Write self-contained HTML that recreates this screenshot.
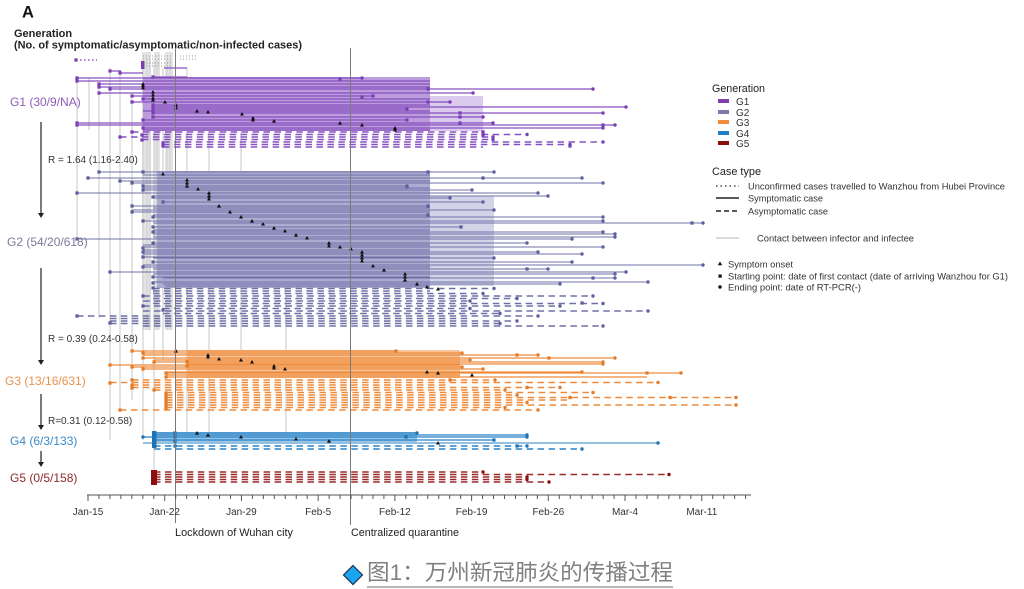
<!DOCTYPE html>
<html><head><meta charset="utf-8"><style>
html,body{margin:0;padding:0;background:#fff;}
svg{display:block;}
text{font-family:"Liberation Sans",Arial,sans-serif;}
.cj{font-family:"Liberation Sans","Noto Sans CJK SC",sans-serif;}
</style></head><body>
<svg width="1024" height="589" viewBox="0 0 1024 589" xmlns="http://www.w3.org/2000/svg">
<rect width="1024" height="589" fill="#fff"/>

<!-- header -->
<text x="22" y="17.5" font-size="16.5" font-weight="900" fill="#111">A</text>
<text x="14" y="37" font-size="11" font-weight="bold" fill="#222">Generation</text>
<text x="14" y="48.5" font-size="11" font-weight="bold" fill="#222" textLength="288" lengthAdjust="spacingAndGlyphs">(No. of symptomatic/asymptomatic/non-infected cases)</text>

<!-- gray contact columns -->
<g fill="#e3e3e3"><rect x="142" y="52" width="9" height="278"/><rect x="154" y="52" width="6" height="278"/><rect x="165" y="52" width="8" height="278"/></g>
<g stroke="#d4d4d4" stroke-width="1.3" fill="none">
<path d="M77 78V240M89 78V130M99 84V318M110 68V440M120 70V410M132 95V400M143 60V440M147 60V330M150 60V330M154 60V472M157 60V330M163 68V360M167 60V330M170 60V330M187 68V440M209 110V440M241 114V360M286 230V440M330 240V300"/>
</g>

<!-- top dotted -->
<g stroke="#9a9a9a" stroke-width="1" stroke-dasharray="1 2" fill="none">
<path d="M143 56H173M180 56H196M143 59H173M180 59H196M146 63H173M146 66H173"/>
</g>
<path d="M80 60H97" stroke="#8650c0" stroke-width="1.5" stroke-dasharray="1.5 2.5"/>
<rect x="141" y="61" width="3.5" height="8" fill="#7a3fb5"/>

<!-- bands -->
<rect x="143" y="77" width="287" height="54" fill="#bc9cdc"/>
<rect x="430" y="96" width="53" height="35" fill="#dccaee"/>
<rect x="157" y="171" width="273" height="117" fill="#abaccf"/>
<rect x="430" y="196" width="64" height="90" fill="#d2d3e6"/>
<rect x="187" y="350" width="273" height="28" fill="#f6c39a"/>
<rect x="154" y="432" width="263" height="10" fill="#97c5e6"/>

<!-- G1 -->
<g fill="none" stroke="#8650c0">
<path stroke-width="1.2" d="M110 71H121M120 73H143M153 77H187M164 68H187M77 78H362M77 81H430M99 84H430M99 87H430M110 89H593M99 93H473M132 96H373M143 99H430M132 102H450M153 105H430M153 107H626M153 109H407M143 111H430M153 113H603M153 117H483M143 120H407M77 123H493M77 125H615M143 128H603M143 130H430"/>
<path stroke-width="1.6" stroke-dasharray="6.5 4.46" d="M132 132H483M142 134.5H527M142 139.5H493M120 137H493M163 142H603M163 144.5H570M163 147H483"/>
</g>
<path fill="none" stroke="#7a3fb5" stroke-width="3.2" stroke-linecap="square" d="M76 60h.01M110 71h.01M120 73h.01M153 77h.01M77 78h.01M77 81h.01M99 84h.01M99 87h.01M110 89h.01M99 93h.01M132 96h.01M143 99h.01M132 102h.01M153 105h.01M153 107h.01M153 109h.01M153 113h.01M153 117h.01M143 120h.01M77 123h.01M77 125h.01M143 128h.01M132 132h.01M142 135h.01M120 137h.01M142 140h.01M163 143h.01M163 146h.01M340 79h.01M362 97h.01M428 89h.01M460 113h.01M460 117h.01M460 123h.01M428 102h.01M603 125h.01M483 132h.01M483 135h.01M570 146h.01"/>
<path fill="none" stroke="#7a3fb5" stroke-width="3.4" stroke-linecap="round" d="M362 78h.01M593 89h.01M473 93h.01M373 96h.01M450 102h.01M626 107h.01M407 109h.01M603 113h.01M483 117h.01M407 120h.01M493 123h.01M615 125h.01M603 128h.01M483 132h.01M527 134.5h.01M493 137h.01M493 139.5h.01M603 142h.01M570 144.5h.01"/>

<!-- G2 -->
<g fill="none" stroke="#6f70a8">
<path stroke-width="1.1" d="M99 172H494M143 175H430M88 178H582M120 181H430M132 183H603M143 186H407M143 188H430M143 190H472M77 193H538M153 196H548M153 198H450M163 202H483M132 206H428M153 208H430M132 210H494M132 212H430M153 215H428M153 217H603M143 221H603M153 223H703M153 227H461M153 230H430M153 232H603M153 234H615M153 237H615M77 239H572M153 243H527M143 245H430M143 247H603M143 250H430M143 252H538M143 254H582M143 257H430M153 258H494M153 262H572M143 265H703M143 267H430M153 269H548M110 272H626M153 274H615M153 277H430M163 278H615M153 282H648M163 284H560M165 286H430"/>
<path stroke-width="1.6" stroke-dasharray="6.5 4.46" d="M153 288.5H494M153 291H430M153 293.5H483M153 298.5H517M153 303.5H603M143 296H593M143 301H470M143 306H560M143 311H648M143 326H603M163 308.5H470M163 313.5H500M77 316H538M110 318.5H470M110 321H517M110 323.5H500"/>
</g>
<path fill="none" stroke="#5d5e9c" stroke-width="3.2" stroke-linecap="square" d="M99 172h.01M143 172h.01M88 178h.01M120 181h.01M132 183h.01M143 186h.01M143 190h.01M77 193h.01M153 197h.01M163 202h.01M132 206h.01M132 212h.01M153 217h.01M143 221h.01M153 227h.01M153 232h.01M77 239h.01M153 243h.01M143 248h.01M143 252h.01M143 257h.01M153 262h.01M143 267h.01M110 272h.01M153 277h.01M153 283h.01M153 288h.01M143 296h.01M143 306h.01M77 316h.01M110 323h.01M163 310h.01M428 172h.01M483 178h.01M407 187h.01M428 206h.01M428 215h.01M461 227h.01M692 223h.01M527 269h.01M593 278h.01M582 303h.01"/>
<path fill="none" stroke="#5f60a0" stroke-width="3.4" stroke-linecap="round" d="M494 172h.01M582 178h.01M603 183h.01M407 186h.01M472 190h.01M538 193h.01M548 196h.01M450 198h.01M483 202h.01M494 210h.01M603 217h.01M603 221h.01M703 223h.01M603 232h.01M615 234h.01M615 237h.01M572 239h.01M527 243h.01M603 247h.01M538 252h.01M582 254h.01M494 258h.01M572 262h.01M703 265h.01M548 269h.01M626 272h.01M615 274h.01M615 278h.01M648 282h.01M560 284h.01M494 288.5h.01M483 293.5h.01M593 296h.01M517 298.5h.01M470 301h.01M603 303.5h.01M560 306h.01M470 308.5h.01M648 311h.01M500 313.5h.01M538 316h.01M517 321h.01M500 323.5h.01M603 326h.01"/>

<!-- G3 -->
<g fill="none" stroke="#ee8a3a">
<path stroke-width="1.2" d="M132 351H396M143 353H462M143 355H538M143 358H615M154 360H470M154 362H603M187 364H603M110 365H460M132 367H462M143 369H483M166 372H582M166 373H681M166 375H460M166 377H647"/>
<path stroke-width="1.6" stroke-dasharray="6.5 4.46" d="M132 380H495M132 385H450M132 387.5H560M110 382.5H658M166 392.5H593M166 395H517M166 397.5H736M166 400H570M166 402.5H527M166 405H736M166 407.5H505M154 390H505M120 410H538"/>
</g>
<path fill="none" stroke="#e47b28" stroke-width="3.2" stroke-linecap="square" d="M132 351h.01M143 353h.01M143 358h.01M154 362h.01M187 362h.01M187 366h.01M110 365h.01M132 367h.01M143 369h.01M166 373h.01M166 377h.01M132 380h.01M110 383h.01M132 385h.01M132 388h.01M154 390h.01M166 393h.01M166 395h.01M166 398h.01M166 400h.01M166 403h.01M166 405h.01M166 408h.01M120 410h.01M517 355h.01M549 358h.01M647 373h.01M450 380h.01M527 387.5h.01M670 397.5h.01M570 397.5h.01"/>
<path fill="none" stroke="#e47b28" stroke-width="3.4" stroke-linecap="round" d="M396 351h.01M462 353h.01M538 355h.01M615 358h.01M470 360h.01M603 362h.01M603 364h.01M462 367h.01M483 369h.01M582 372h.01M681 373h.01M495 380h.01M658 382.5h.01M560 387.5h.01M505 390h.01M593 392.5h.01M517 395h.01M736 397.5h.01M527 402.5h.01M736 405h.01M505 407.5h.01M538 410h.01"/>

<!-- G4 -->
<g fill="none" stroke="#2a82c6">
<path stroke-width="1.2" d="M154 433H417M154 435H527M143 437H527M154 440H494"/>
<path stroke-width="1" d="M143 443H658"/>
<path stroke-width="1.6" stroke-dasharray="6.5 4.46" d="M154 446H527M154 449H582"/>
</g>
<rect x="152" y="431" width="4.5" height="17" fill="#1f73b5"/>
<path fill="none" stroke="#1f73b5" stroke-width="3.2" stroke-linecap="square" d="M175 433h.01M175 437h.01M175 441h.01M175 446h.01M406 437h.01M494 440h.01M517 446h.01"/>
<path fill="none" stroke="#1f73b5" stroke-width="3.4" stroke-linecap="round" d="M143 437h.01M417 433h.01M527 435h.01M527 437h.01M658 443h.01M527 446h.01M582 449h.01"/>

<!-- G5 -->
<path fill="none" stroke="#9b2a2a" stroke-width="1.6" stroke-dasharray="6.5 4.46" d="M154 472H483M154 474.5H669M154 477H527M154 479.5H527M154 482H549"/>
<rect x="151" y="470" width="6" height="15" fill="#8b0f0f"/>
<path fill="none" stroke="#8b0f0f" stroke-width="3.4" stroke-linecap="round" d="M483 472h.01M669 474.5h.01M527 477h.01M527 479.5h.01M549 482h.01"/>

<!-- triangles -->
<g fill="#111">
<path d="M143 82l2 3.5h-4zM143 84l2 3.5h-4zM143 86l2 3.5h-4zM153 90l2 3.5h-4zM153 93l2 3.5h-4zM153 96l2 3.5h-4zM153 98l2 3.5h-4zM165 100l2 3.5h-4zM176 103l2 3.5h-4zM176 106l2 3.5h-4zM197 109l2 3.5h-4zM208 110l2 3.5h-4zM242 112l2 3.5h-4zM253 116l2 3.5h-4zM253 118l2 3.5h-4zM274 119l2 3.5h-4zM340 121l2 3.5h-4zM362 123l2 3.5h-4zM395 126l2 3.5h-4zM395 128l2 3.5h-4z"/>
<path d="M163 172l2 3.5h-4zM187 178l2 3.5h-4zM187 181l2 3.5h-4zM187 184l2 3.5h-4zM198 187l2 3.5h-4zM209 191l2 3.5h-4zM209 194l2 3.5h-4zM209 197l2 3.5h-4zM219 204l2 3.5h-4zM230 210l2 3.5h-4zM241 215l2 3.5h-4zM252 219l2 3.5h-4zM263 222l2 3.5h-4zM274 226l2 3.5h-4zM285 229l2 3.5h-4zM296 233l2 3.5h-4zM307 236l2 3.5h-4zM329 241l2 3.5h-4zM329 244l2 3.5h-4zM340 245l2 3.5h-4zM351 247l2 3.5h-4zM362 250l2 3.5h-4zM362 253l2 3.5h-4zM362 256l2 3.5h-4zM362 259l2 3.5h-4zM373 264l2 3.5h-4zM384 268l2 3.5h-4zM405 272l2 3.5h-4zM405 275l2 3.5h-4zM405 278l2 3.5h-4zM417 282l2 3.5h-4zM427 285l2 3.5h-4zM438 287l2 3.5h-4z"/>
<path d="M176 349l2 3.5h-4zM208 353l2 3.5h-4zM208 355l2 3.5h-4zM219 357l2 3.5h-4zM241 358l2 3.5h-4zM252 360l2 3.5h-4zM274 364l2 3.5h-4zM274 366l2 3.5h-4zM285 367l2 3.5h-4zM427 370l2 3.5h-4zM438 371l2 3.5h-4zM472 373l2 3.5h-4z"/>
<path d="M197 431l2 3.5h-4zM208 433l2 3.5h-4zM241 435l2 3.5h-4zM296 437l2 3.5h-4zM329 439l2 3.5h-4zM438 441l2 3.5h-4z"/>
</g>

<!-- event lines -->
<path d="M175.5 48V523M350.5 48V525" stroke="#7a7a7a" stroke-width="1" fill="none"/>

<!-- left labels -->
<text x="10" y="106" font-size="12" fill="#8e5cb8">G1 (30/9/NA)</text>
<text x="48" y="163" font-size="10" fill="#333">R = 1.64 (1.16-2.40)</text>
<text x="7" y="246" font-size="12" fill="#7a7a9c">G2 (54/20/618)</text>
<text x="48" y="342" font-size="10" fill="#333">R = 0.39 (0.24-0.58)</text>
<text x="5" y="385" font-size="12" fill="#e9924a">G3 (13/16/631)</text>
<text x="48" y="424" font-size="10" fill="#333">R=0.31 (0.12-0.58)</text>
<text x="10" y="445" font-size="12" fill="#3a8cc8">G4 (6/3/133)</text>
<text x="10" y="482" font-size="12" fill="#8e2b2b">G5 (0/5/158)</text>
<g stroke="#222" stroke-width="1.2" fill="none">
<path d="M41 122V213M41 268V360M41 394V425M41 451V462"/>
</g>
<g fill="#222">
<path d="M38 213h6l-3 5zM38 360h6l-3 5zM38 425h6l-3 5zM38 462h6l-3 5z"/>
</g>

<!-- axis -->
<path d="M87 495H751" stroke="#555" stroke-width="1" fill="none"/>
<path stroke="#555" stroke-width="1" fill="none" d="M88 495v6M98.96 495v4M109.92 495v4M120.88 495v4M131.84 495v4M142.8 495v4M153.76 495v4M164.72 495v6M175.68 495v4M186.64 495v4M197.6 495v4M208.56 495v4M219.52 495v4M230.48 495v4M241.44 495v6M252.4 495v4M263.36 495v4M274.32 495v4M285.28 495v4M296.24 495v4M307.2 495v4M318.16 495v6M329.12 495v4M340.08 495v4M351.04 495v4M362 495v4M372.96 495v4M383.92 495v4M394.88 495v6M405.84 495v4M416.8 495v4M427.76 495v4M438.72 495v4M449.68 495v4M460.64 495v4M471.6 495v6M482.56 495v4M493.52 495v4M504.48 495v4M515.44 495v4M526.4 495v4M537.36 495v4M548.32 495v6M559.28 495v4M570.24 495v4M581.2 495v4M592.16 495v4M603.12 495v4M614.08 495v4M625.04 495v6M636 495v4M646.96 495v4M657.92 495v4M668.88 495v4M679.84 495v4M690.8 495v4M701.76 495v6M712.72 495v4M723.68 495v4M734.64 495v4M745.6 495v4"/>
<g font-size="10" fill="#333" text-anchor="middle">
<text x="88" y="515">Jan-15</text>
<text x="164.7" y="515">Jan-22</text>
<text x="241.4" y="515">Jan-29</text>
<text x="318.2" y="515">Feb-5</text>
<text x="394.9" y="515">Feb-12</text>
<text x="471.6" y="515">Feb-19</text>
<text x="548.3" y="515">Feb-26</text>
<text x="625" y="515">Mar-4</text>
<text x="701.8" y="515">Mar-11</text>
</g>
<text x="175" y="536" font-size="11" fill="#222" textLength="118" lengthAdjust="spacingAndGlyphs">Lockdown of Wuhan city</text>
<text x="351" y="536" font-size="11" fill="#222" textLength="108" lengthAdjust="spacingAndGlyphs">Centralized quarantine</text>

<!-- legend -->
<text x="712" y="92" font-size="11" fill="#222" textLength="53" lengthAdjust="spacingAndGlyphs">Generation</text>
<rect x="718" y="99" width="11" height="4" fill="#7e3fa8"/>
<rect x="718" y="110" width="11" height="4" fill="#7c7aac"/>
<rect x="718" y="120" width="11" height="4" fill="#f08a3c"/>
<rect x="718" y="131" width="11" height="4" fill="#1f7ec4"/>
<rect x="718" y="141" width="11" height="4" fill="#8a0f0f"/>
<g font-size="10" fill="#333">
<text x="736" y="105">G1</text>
<text x="736" y="116">G2</text>
<text x="736" y="126">G3</text>
<text x="736" y="137">G4</text>
<text x="736" y="147">G5</text>
</g>
<text x="712" y="175" font-size="11" fill="#222" textLength="49" lengthAdjust="spacingAndGlyphs">Case type</text>
<path d="M716 186H739" stroke="#222" stroke-width="1.2" stroke-dasharray="1.5 3"/>
<path d="M716 198H739" stroke="#222" stroke-width="1.4"/>
<path d="M716 211H739" stroke="#222" stroke-width="1.4" stroke-dasharray="5 3"/>
<path d="M716 238H739" stroke="#cfcfcf" stroke-width="1.4"/>
<g font-size="9.5" fill="#333">
<text x="748" y="189.5" textLength="257" lengthAdjust="spacingAndGlyphs">Unconfirmed cases travelled to Wanzhou from Hubei Province</text>
<text x="748" y="201.5" textLength="75" lengthAdjust="spacingAndGlyphs">Symptomatic case</text>
<text x="748" y="214.5" textLength="80" lengthAdjust="spacingAndGlyphs">Asymptomatic case</text>
<text x="757" y="241.5" textLength="157" lengthAdjust="spacingAndGlyphs">Contact between infector and infectee</text>
<text x="728" y="267.5" textLength="65" lengthAdjust="spacingAndGlyphs">Symptom onset</text>
<text x="728" y="279.5" textLength="280" lengthAdjust="spacingAndGlyphs">Starting point: date of first contact (date of arriving Wanzhou for G1)</text>
<text x="728" y="290.5" textLength="133" lengthAdjust="spacingAndGlyphs">Ending point: date of RT-PCR(-)</text>
</g>
<path d="M720 261.5l2.2 3.8h-4.4z" fill="#111"/>
<rect x="718.5" y="274.5" width="3.2" height="3.2" fill="#111"/>
<circle cx="720" cy="287" r="1.7" fill="#111"/>

<!-- caption -->
<path d="M353 565.5L362.5 575L353 584.5L343.5 575Z" fill="#19a6ee" stroke="#1a2f4f" stroke-width="1.2"/>
<text class="cj" x="367" y="580" font-size="22" fill="#808080" textLength="306" lengthAdjust="spacingAndGlyphs">图1：万州新冠肺炎的传播过程</text>
<path d="M367 587H673" stroke="#8a8a8a" stroke-width="1.2"/>
</svg>
</body></html>
